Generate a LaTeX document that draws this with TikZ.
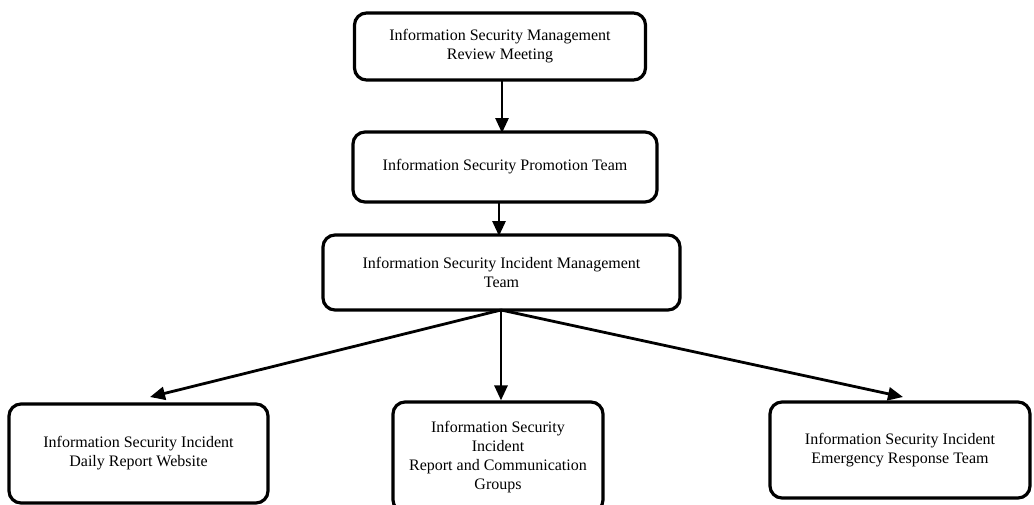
\documentclass[tikz,border=0pt]{standalone}
\usepackage{fontspec}
\setmainfont{Liberation Serif}
\usetikzlibrary{arrows.meta}
\begin{document}
\begin{tikzpicture}[x=1pt,y=-1pt,
  unit/.style={draw=black, line width=3.2pt, rounded corners=12pt, align=center,
    font=\fontsize{16}{19}\selectfont, inner sep=0pt},
  link/.style={line width=2.8pt, -{Triangle[length=15pt,width=13pt]}}]
\useasboundingbox (0,0) rectangle (1034,504);
\node[unit, minimum width=291pt, minimum height=67pt] (b1) at (500,46.5)
  {Information Security Management\\Review Meeting};
\node[unit, minimum width=304pt, minimum height=70pt] (b2) at (505,167)
  {Information Security Promotion Team};
\node[unit, minimum width=357pt, minimum height=75pt] (b3) at (501.5,272.5)
  {Information Security Incident Management\\Team};
\node[unit, minimum width=259pt, minimum height=99pt] (b4) at (138.5,453.5)
  {Information Security Incident\\Daily Report Website};
\node[unit, minimum width=210pt, minimum height=110pt] (b5) at (498,457)
  {Information Security\\Incident\\Report and Communication\\Groups};
\node[unit, minimum width=260pt, minimum height=96pt] (b6) at (900,450)
  {Information Security Incident\\Emergency Response Team};
\coordinate (t4) at (150,397);
\coordinate (t6) at (903,397);
\coordinate (hub) at (501,310);
\draw[link] (502,80) -- (502,133);
\draw[link] (499,202) -- (499,236);
\draw[link] (hub) -- (t4);
\draw[link] (hub) -- (hub |- b5.north);
\draw[link] (hub) -- (t6);
\end{tikzpicture}
\end{document}
